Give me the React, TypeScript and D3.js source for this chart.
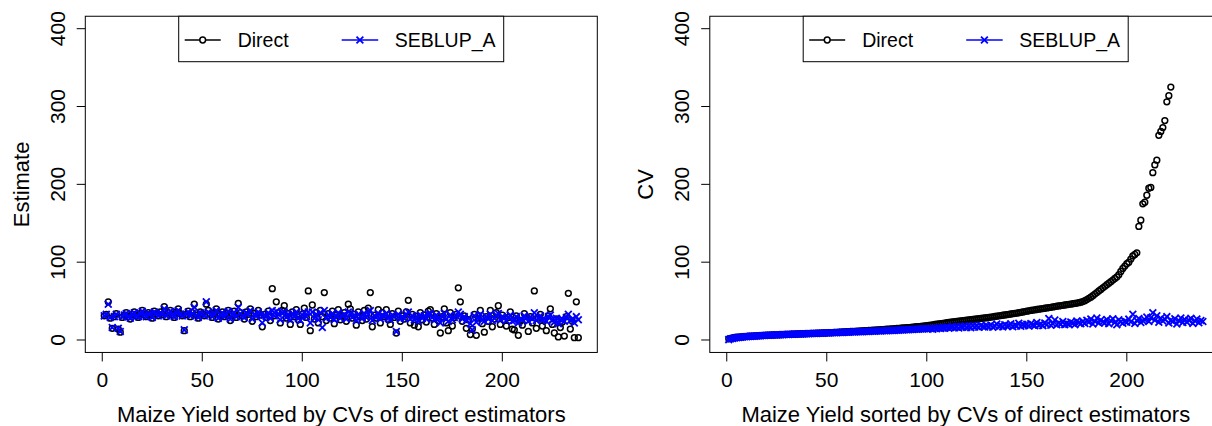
import React from "react";
import * as d3 from "d3";

// ---- data (index 1..238, sorted by CV of direct estimator) ----
const directEstimate: number[] = [
  31, 33, 49, 28, 15, 30, 34, 14, 10, 29,
  32, 35, 30, 27, 33, 36, 31, 29, 34, 38,
  32, 30, 35, 33, 28, 37, 34, 31, 36, 33,
  43, 30, 35, 38, 32, 29, 36, 40, 34, 31,
  12, 33, 37, 30, 35, 46, 32, 28, 36, 34,
  31, 46, 38, 33, 29, 35, 40, 27, 32, 36,
  30, 34, 38, 25, 33, 37, 29, 47, 35, 31,
  27, 36, 33, 40, 24, 34, 30, 38, 32, 17,
  33, 29, 37, 25, 66, 31, 49, 35, 22, 38,
  44, 28, 34, 20, 36, 30, 39, 26, 20, 33,
  41, 29, 63, 12, 45, 27, 35, 22, 38, 30,
  61, 25, 34, 28, 37, 21, 32, 39, 26, 31,
  35, 24, 46, 40, 28, 33, 19, 36, 30, 25,
  38, 27, 41, 61, 17, 32, 28, 39, 22, 35,
  30, 39, 26, 20, 34, 29, 9, 37, 24, 31,
  27, 36, 51, 22, 33, 19, 30, 17, 35, 26,
  32, 23, 37, 39, 28, 20, 34, 25, 9, 30,
  40, 22, 12, 35, 18, 29, 33, 67, 49, 24,
  31, 15, 26, 7, 14, 33, 6, 28, 38, 21,
  10, 30, 24, 38, 17, 27, 35, 44, 20, 32,
  25, 18, 29, 36, 14, 13, 31, 6, 24, 19,
  34, 26, 11, 30, 22, 63, 15, 28, 33, 18,
  25, 12, 31, 40, 20, 9, 27, 4, 16, 23,
  5, 30, 60, 14, 24, 3, 49, 3,
];

const seblupEstimate: number[] = [
  31, 33, 46, 29, 16, 30, 33, 15, 11, 30,
  32, 34, 30, 28, 33, 35, 31, 30, 34, 37,
  32, 30, 34, 33, 29, 36, 34, 31, 35, 33,
  40, 31, 34, 37, 32, 30, 35, 38, 33, 31,
  13, 33, 36, 31, 34, 42, 32, 29, 35, 33,
  31, 49, 36, 33, 30, 34, 38, 28, 32, 35,
  30, 33, 37, 27, 33, 35, 30, 42, 34, 31,
  29, 35, 33, 38, 27, 33, 31, 36, 32, 22,
  32, 30, 35, 28, 38, 31, 37, 33, 26, 35,
  36, 29, 33, 26, 34, 30, 36, 28, 25, 32,
  35, 30, 36, 22, 36, 28, 33, 26, 35, 16,
  38, 28, 32, 29, 34, 26, 31, 35, 28, 31,
  33, 27, 36, 34, 29, 32, 25, 33, 30, 28,
  34, 29, 33, 38, 25, 31, 29, 34, 27, 32,
  30, 34, 28, 26, 32, 30, 11, 33, 27, 30,
  28, 33, 36, 27, 31, 26, 30, 24, 32, 28,
  31, 27, 33, 34, 29, 26, 32, 28, 22, 30,
  34, 27, 24, 32, 26, 29, 31, 36, 33, 27,
  30, 25, 28, 21, 13, 31, 23, 29, 33, 26,
  24, 30, 27, 33, 25, 28, 32, 34, 26, 30,
  28, 25, 29, 32, 24, 25, 30, 22, 27, 26,
  31, 28, 24, 29, 27, 35, 25, 28, 31, 26,
  27, 24, 30, 32, 26, 23, 28, 21, 26, 27,
  24, 29, 33, 25, 27, 22, 30, 26,
];

// CV of direct estimator; null = beyond the plotted range
const directCV: (number | null)[] = [
  1.5, 2.2, 2.8, 3.2, 3.5, 3.8, 4.0, 4.2, 4.4, 4.6,
  4.8, 5.0, 5.1, 5.3, 5.4, 5.6, 5.7, 5.8, 6.0, 6.1,
  6.2, 6.3, 6.5, 6.6, 6.7, 6.8, 6.9, 7.0, 7.1, 7.2,
  7.3, 7.4, 7.5, 7.6, 7.7, 7.8, 7.9, 8.0, 8.1, 8.2,
  8.3, 8.4, 8.5, 8.6, 8.7, 8.8, 8.9, 9.0, 9.1, 9.2,
  9.4, 9.5, 9.6, 9.8, 9.9, 10.0, 10.2, 10.3, 10.4, 10.6,
  10.7, 10.9, 11.0, 11.2, 11.3, 11.5, 11.6, 11.8, 11.9, 12.1,
  12.2, 12.4, 12.6, 12.7, 12.9, 13.1, 13.2, 13.4, 13.6, 13.8,
  14.0, 14.2, 14.4, 14.6, 14.8, 15.0, 15.2, 15.4, 15.6, 15.8,
  16.0, 16.3, 16.5, 16.8, 17.0, 17.3, 17.6, 17.9, 18.2, 18.5,
  18.8, 19.2, 19.5, 19.9, 20.3, 20.6, 21.0, 21.4, 21.8, 22.2,
  22.5, 22.9, 23.2, 23.6, 23.9, 24.2, 24.6, 24.9, 25.2, 25.5,
  25.8, 26.1, 26.4, 26.7, 27.0, 27.3, 27.7, 28.0, 28.3, 28.7,
  29.0, 29.4, 29.8, 30.2, 30.6, 31.0, 31.4, 31.8, 32.2, 32.6,
  33.0, 33.4, 33.8, 34.2, 34.6, 35.0, 35.5, 36.0, 36.5, 37.0,
  37.5, 38.0, 38.4, 38.8, 39.2, 39.6, 40.0, 40.4, 40.8, 41.2,
  41.6, 42.0, 42.5, 43.0, 43.4, 43.8, 44.2, 44.6, 45.0, 45.4,
  45.8, 46.2, 46.6, 47.0, 47.5, 48.0, 48.6, 49.4, 50.5, 52.0,
  53.5, 55.0, 57.0, 59.0, 61.0, 63.0, 65.0, 67.0, 69.0, 71.0,
  73.0, 75.0, 77.0, 79.0, 81.0, 84.0, 88.0, 92.0, 95.0, 98.0,
  100, 104, 108, 110, 112, 146, 154, 175, 177, 186,
  195, 196, 215, 225, 231, 263, 268, 273, 282, 306,
  314, 325, null, null, null, null, null, null, null, null,
  null, null, null, null, null, null, null, null,
];

const seblupCV: number[] = [
  0.5, 1.5, 2.0, 2.6, 3.0, 3.3, 3.6, 3.9, 4.1, 4.3,
  4.5, 4.7, 4.9, 5.0, 5.2, 5.4, 5.5, 5.7, 5.8, 6.0,
  6.1, 6.2, 6.4, 6.5, 6.6, 6.7, 6.8, 6.9, 7.0, 7.1,
  7.2, 7.3, 7.4, 7.5, 7.6, 7.7, 7.8, 7.9, 8.0, 8.1,
  8.2, 8.3, 8.3, 8.4, 8.5, 8.6, 8.7, 8.8, 8.9, 9.0,
  9.1, 9.2, 9.3, 9.4, 9.5, 9.6, 9.7, 9.8, 9.9, 10.0,
  10.1, 10.2, 10.3, 10.4, 10.5, 10.6, 10.7, 10.8, 10.9, 11.0,
  11.1, 11.2, 11.3, 11.4, 11.5, 11.6, 11.7, 11.8, 11.9, 12.0,
  12.1, 12.2, 12.3, 12.4, 12.6, 12.7, 12.8, 13.0, 13.1, 13.2,
  13.3, 13.5, 13.6, 13.7, 13.9, 14.0, 14.1, 14.3, 14.4, 14.5,
  14.6, 14.8, 13.9, 15.2, 14.5, 15.6, 14.8, 16.0, 15.1, 16.5,
  15.3, 16.2, 17.4, 15.8, 16.9, 15.5, 17.2, 16.4, 18.0, 16.1,
  17.5, 15.9, 18.3, 16.8, 17.9, 16.3, 19.0, 17.2, 16.6, 18.4,
  17.0, 19.2, 16.5, 18.1, 20.5, 17.3, 18.8, 16.9, 19.6, 17.8,
  18.5, 20.8, 17.1, 19.3, 18.0, 21.5, 17.6, 19.9, 18.7, 20.2,
  17.9, 21.0, 19.4, 18.2, 22.4, 19.0, 20.6, 18.5, 21.8, 19.7,
  27.5, 18.9, 20.9, 25.8, 19.5, 22.0, 20.3, 23.6, 19.8, 21.4,
  20.1, 23.0, 21.7, 19.6, 24.5, 22.3, 20.8, 23.9, 21.2, 25.2,
  22.8, 27.0, 20.5, 24.2, 28.1, 21.9, 25.6, 23.1, 22.0, 26.4,
  20.9, 24.8, 27.3, 22.5, 19.7, 25.9, 23.4, 21.6, 24.0, 22.7,
  26.8, 23.3, 33.0, 21.2, 25.1, 27.6, 22.4, 24.7, 26.0, 29.4,
  23.8, 28.5, 35.0, 25.4, 31.2, 22.9, 27.9, 24.3, 26.6, 30.0,
  21.8, 25.7, 23.6, 27.2, 20.6, 24.9, 28.2, 22.6, 26.3, 23.0,
  25.5, 27.8, 21.4, 24.6, 26.9, 22.2, 25.0, 23.7,
];

const xTicks = [0, 50, 100, 150, 200];
const yTicks = [0, 100, 200, 300, 400];
const legendLabels = ["Direct", "SEBLUP_A"];
const xTitle = "Maize Yield sorted by CVs of direct estimators";

const FONT = "'Liberation Sans', Arial, Helvetica, sans-serif";
const N = directEstimate.length;

type PanelProps = {
  left: number;
  yTitle: string;
  s1: (number | null)[];
  s2: (number | null)[];
  id: string;
};

function crossPath(cx: number, cy: number, h: number) {
  return `M${cx - h},${cy - h}L${cx + h},${cy + h}M${cx - h},${cy + h}L${cx + h},${cy - h}`;
}

function Panel({ left, yTitle, s1, s2, id }: PanelProps) {
  const pad = 0.04 * (N - 1);
  const x = d3.scaleLinear().domain([1 - pad, N + pad]).range([left, left + 512]);
  const y = d3.scaleLinear().domain([-16, 416]).range([352.45, 16.25]);
  const top = y(416);
  const bottom = y(-16);
  const right = left + 512;
  const cross = 3.4;
  const lgLeft = left + 93.4;
  const lgY = 40;
  return (
    <g>
      <defs>
        <clipPath id={id}>
          <rect x={left} y={top} width={512} height={bottom - top} />
        </clipPath>
      </defs>
      <g clipPath={`url(#${id})`}>
        {s1.map((v, i) =>
          v == null ? null : (
            <circle key={"a" + i} cx={x(i + 1)} cy={y(v)} r={2.9} fill="none" stroke="#000" strokeWidth={1.5} />
          )
        )}
        {s2.map((v, i) =>
          v == null ? null : (
            <path key={"b" + i} d={crossPath(x(i + 1), y(v), cross)} stroke="#0000FF" strokeWidth={1.8} fill="none" />
          )
        )}
      </g>
      <rect x={left} y={top} width={512} height={bottom - top} fill="none" stroke="#000" strokeWidth={1} />
      {xTicks.map((t) => (
        <g key={"xt" + t}>
          <line x1={x(t)} x2={x(t)} y1={bottom} y2={bottom + 9} stroke="#000" strokeWidth={1} />
          <text x={x(t)} y={386.5} textAnchor="middle" fontSize={21} fontFamily={FONT} fill="#000">
            {t}
          </text>
        </g>
      ))}
      {yTicks.map((t) => (
        <g key={"yt" + t}>
          <line x1={left - 8.6} x2={left} y1={y(t)} y2={y(t)} stroke="#000" strokeWidth={1} />
          <text
            transform={`translate(${left - 20.5},${y(t)}) rotate(-90)`}
            textAnchor="middle"
            fontSize={21}
            fontFamily={FONT}
            fill="#000"
          >
            {t}
          </text>
        </g>
      ))}
      <text x={(left + right) / 2} y={421.5} textAnchor="middle" fontSize={22} fontFamily={FONT} fill="#000">
        {xTitle}
      </text>
      <text
        transform={`translate(${left - 56.5},${(top + bottom) / 2}) rotate(-90)`}
        textAnchor="middle"
        fontSize={22}
        fontFamily={FONT}
        fill="#000"
      >
        {yTitle}
      </text>
      {/* legend */}
      <rect x={lgLeft} y={top} width={325} height={61.7 - top} fill="#fff" stroke="#000" strokeWidth={1} />
      <line x1={lgLeft + 6} x2={lgLeft + 42} y1={lgY} y2={lgY} stroke="#000" strokeWidth={1.4} />
      <circle cx={lgLeft + 24} cy={lgY} r={2.9} fill="#fff" stroke="#000" strokeWidth={1.5} />
      <text x={lgLeft + 59} y={46.5} fontSize={19.5} fontFamily={FONT} fill="#000">
        {legendLabels[0]}
      </text>
      <line x1={lgLeft + 163} x2={lgLeft + 199.5} y1={lgY} y2={lgY} stroke="#0000FF" strokeWidth={1.4} />
      <path d={crossPath(lgLeft + 181.2, lgY, cross)} stroke="#0000FF" strokeWidth={1.8} fill="none" />
      <text x={lgLeft + 216} y={46.5} fontSize={19.5} fontFamily={FONT} fill="#000">
        {legendLabels[1]}
      </text>
    </g>
  );
}

export default function App() {
  return (
    <svg width={1212} height={426} style={{ position: "absolute", left: 0, top: 0, background: "#fff" }}>
      <rect x={0} y={0} width={1212} height={426} fill="#fff" />
      <Panel left={85.3} yTitle="Estimate" s1={directEstimate} s2={seblupEstimate} id="clipL" />
      <Panel left={709.8} yTitle="CV" s1={directCV} s2={seblupCV} id="clipR" />
    </svg>
  );
}
